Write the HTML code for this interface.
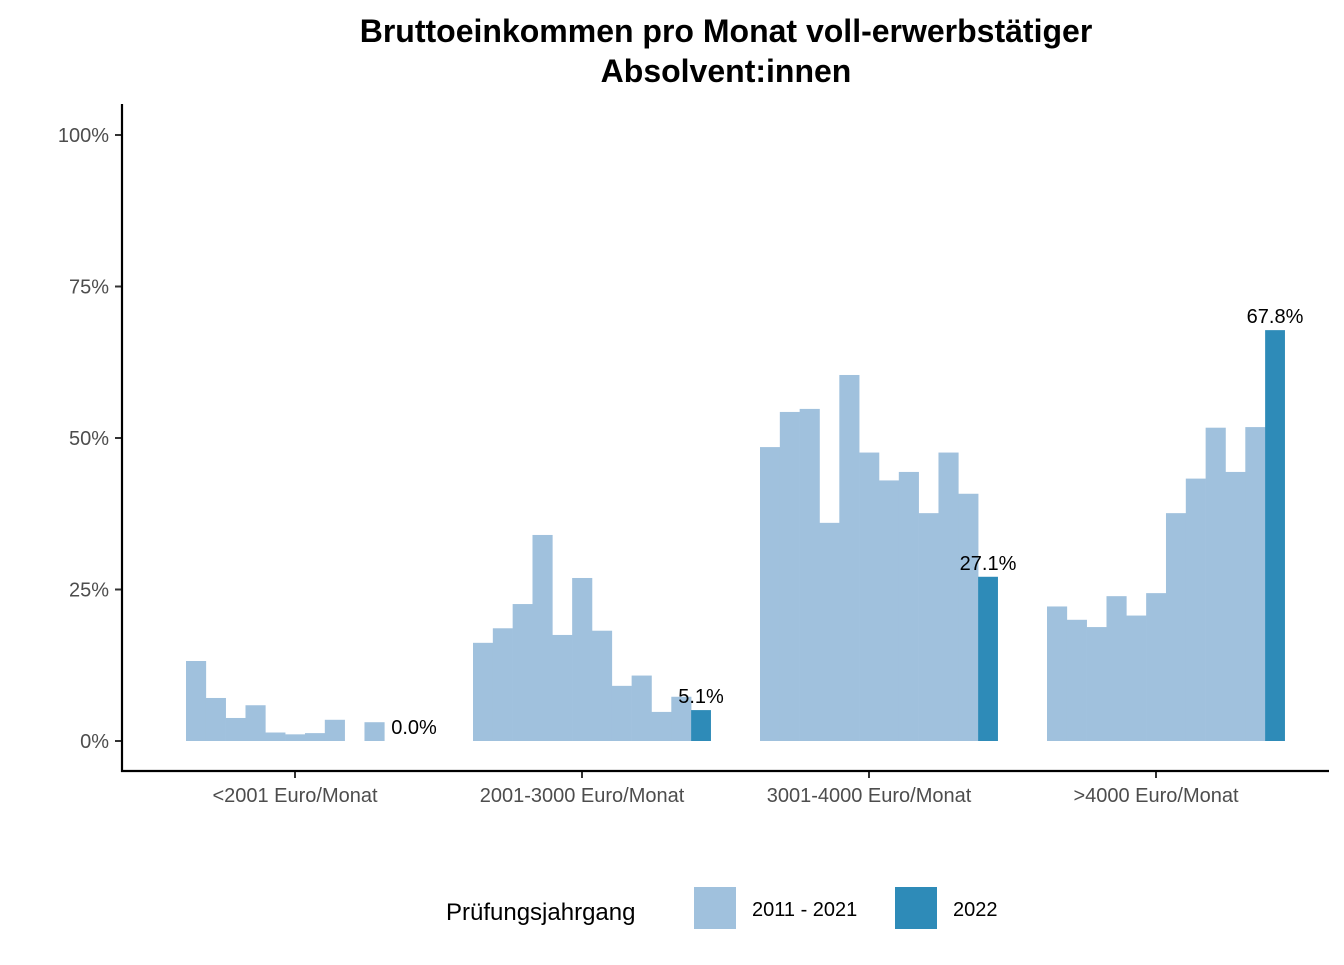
<!DOCTYPE html>
<html><head><meta charset="utf-8"><style>
body{margin:0;background:#fff;}
svg text{font-family:"Liberation Sans",Arial,sans-serif;}
</style></head><body>
<svg width="1344" height="960" xmlns="http://www.w3.org/2000/svg">
<text x="726" y="42" text-anchor="middle" font-size="32" font-weight="bold">Bruttoeinkommen pro Monat voll-erwerbstätiger</text>
<text x="726" y="82" text-anchor="middle" font-size="32" font-weight="bold">Absolvent:innen</text>
<g id="plot"></g>
<g>
<text x="446" y="920" font-size="24" fill="#000">Prüfungsjahrgang</text>
<rect x="694" y="887" width="42" height="42" fill="#a0c1dd"/>
<text x="752" y="916" font-size="20">2011 - 2021</text>
<rect x="895" y="887" width="42" height="42" fill="#2e8bb8"/>
<text x="953" y="916" font-size="20">2022</text>
</g>
</svg>
<script>
const categories=["<2001 Euro/Monat","2001-3000 Euro/Monat","3001-4000 Euro/Monat",">4000 Euro/Monat"];
const pastValues=[
[13.2,7.1,3.8,5.9,1.4,1.1,1.3,3.5,0,3.1,0],
[16.2,18.6,22.6,34.0,17.5,26.9,18.2,9.1,10.8,4.8,7.3],
[48.5,54.3,54.8,36.0,60.4,47.6,43.0,44.4,37.6,47.6,40.8],
[22.2,20.0,18.8,23.9,20.7,24.4,37.6,43.3,51.7,44.4,51.8]];
const currentValues=[0.0,5.1,27.1,67.8];
const yTicks=[0,25,50,75,100];
const yTickLabels=["0%","25%","50%","75%","100%"];
const NS="http://www.w3.org/2000/svg";
const g=document.getElementById('plot');
const y0=741,y100=135;
const yScale=v=>y0-(y0-y100)*v/100;
const cx0=295,cstep=287,bw=19.83;
const xCenter=i=>cx0+i*cstep;
function mk(t,a){const e=document.createElementNS(NS,t);for(const k in a)e.setAttribute(k,a[k]);g.appendChild(e);return e;}
categories.forEach((c,i)=>{
 const start=xCenter(i)-109;
 pastValues[i].forEach((v,j)=>{
  if(v<=0)return;
  const r=mk('rect',{x:start+j*bw,y:yScale(v),width:bw+0.3,height:y0-yScale(v),fill:'#a0c1dd'});
  
  
 });
 const v=currentValues[i];
 const bx=start+11*bw;
 const r=mk('rect',{x:bx,y:yScale(v),width:bw,height:y0-yScale(v),fill:'#2e8bb8'});
 
 
 const t=mk('text',{x:bx+bw/2,y:yScale(v)-7,'text-anchor':'middle','font-size':20,fill:'#000'});
 t.textContent=v.toFixed(1)+'%';
 
 
 const tk=mk('line',{x1:xCenter(i),x2:xCenter(i),y1:771,y2:778,stroke:'#333','stroke-width':2});
 
 
 const tl=mk('text',{x:xCenter(i),y:802,'text-anchor':'middle','font-size':20,fill:'#4d4d4d'});
 tl.textContent=c;
 
 
});
yTicks.forEach((v,k)=>{
 const l=mk('line',{x1:115,x2:122,y1:yScale(v),y2:yScale(v),stroke:'#333','stroke-width':2});
 
 
 const t=mk('text',{x:109,y:yScale(v)+7,'text-anchor':'end','font-size':20,fill:'#4d4d4d'});
 t.textContent=yTickLabels[k];
 
 
});
const ya=mk('line',{x1:122,x2:122,y1:104,y2:772,stroke:'#000','stroke-width':2.2});


const xa=mk('line',{x1:121,x2:1329,y1:771,y2:771,stroke:'#000','stroke-width':2.2});


</script>
</body></html>
